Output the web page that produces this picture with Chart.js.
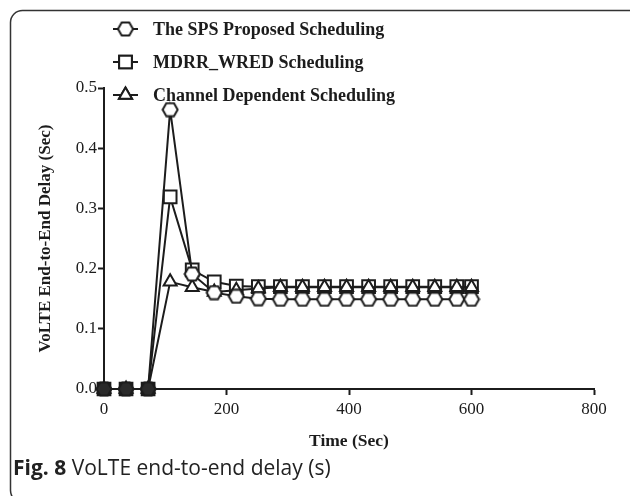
<!DOCTYPE html>
<html><head><meta charset="utf-8">
<script src="https://cdn.jsdelivr.net/npm/chart.js@4.4.1/dist/chart.umd.min.js"></script>
<style>html,body{margin:0;padding:0;background:#fff}</style>
</head><body>
<canvas id="c" width="630" height="496"></canvas>
<script>
const times = [0, 36, 72, 108, 144, 180, 216, 252, 288, 324, 360, 396, 432, 468, 504, 540, 576, 600];
const spsDelay = [0, 0, 0, 0.464, 0.191, 0.16, 0.154, 0.15, 0.149, 0.149, 0.149, 0.149, 0.149, 0.149, 0.149, 0.149, 0.149, 0.149];
const mdrrDelay = [0, 0, 0, 0.319, 0.198, 0.178, 0.171, 0.17, 0.17, 0.17, 0.17, 0.17, 0.17, 0.17, 0.17, 0.17, 0.17, 0.17];
const cdsDelay = [0, 0, 0, 0.178, 0.169, 0.161, 0.164, 0.167, 0.169, 0.169, 0.169, 0.169, 0.169, 0.169, 0.169, 0.169, 0.169, 0.169];
const seriesNames = ['The SPS Proposed Scheduling', 'MDRR_WRED Scheduling', 'Channel Dependent Scheduling'];
const xTicks = [0, 200, 400, 600, 800];
const yTicks = [0, 0.1, 0.2, 0.3, 0.4, 0.5];
const caption = ['Fig. 8', ' VoLTE end-to-end delay (s)'];

const INK = '#1c1c1c';
function hexImage(fill) {
  const c = document.createElement('canvas');
  c.width = 18; c.height = 16;
  const g = c.getContext('2d');
  g.translate(9, 8);
  g.beginPath();
  g.moveTo(-7.5, 0); g.lineTo(-3.8, -6.5); g.lineTo(3.8, -6.5);
  g.lineTo(7.5, 0); g.lineTo(3.8, 6.5); g.lineTo(-3.8, 6.5); g.closePath();
  g.fillStyle = fill; g.fill();
  g.lineWidth = 2; g.strokeStyle = INK; g.stroke();
  return c;
}
const hexWhite = hexImage('#fff');
const hexDark = hexImage('#2a2a2a');
const pts = arr => times.map((t, i) => ({x: t, y: arr[i]}));
const fillFor = ctx => (ctx.raw && ctx.raw.y === 0) ? '#2a2a2a' : '#fff';

const frame = {
  id: 'frame',
  beforeDraw(chart) {
    const g = chart.ctx;
    g.save();
    g.strokeStyle = '#333'; g.lineWidth = 1.5;
    g.beginPath();
    if (g.roundRect) g.roundRect(10.5, 10.5, 630, 492, 12); else g.rect(10.5, 10.5, 630, 492);
    g.stroke();
    g.restore();
  },
  afterDraw(chart) {
    const g = chart.ctx;
    g.save();
    const ds = chart.data.datasets;
    const ys = [29, 62, 95];
    ds.forEach((d, i) => {
      const y = ys[i];
      g.strokeStyle = INK; g.lineWidth = 2;
      g.beginPath(); g.moveTo(113, y); g.lineTo(138, y); g.stroke();
      const st = d.legendStyle;
      if (st === 'hex') {
        g.drawImage(hexWhite, 125.5 - 9, y - 8);
      } else {
        g.fillStyle = '#fff';
        Chart.helpers.drawPoint(g, {pointStyle: st, radius: d.pointRadius, borderWidth: 2, rotation: 0}, 125.5, y);
        g.fill(); g.stroke();
      }
      g.fillStyle = INK;
      g.font = 'bold 18px "Liberation Serif", "DejaVu Serif", serif';
      g.textBaseline = 'middle'; g.textAlign = 'left';
      g.fillText(d.label, 153, y + 1);
    });
    g.textBaseline = 'alphabetic';
    g.font = 'bold 21px "Open Sans", "Noto Sans", sans-serif';
    g.fillStyle = '#222';
    g.fillText(caption[0], 13, 475);
    const w = g.measureText(caption[0]).width;
    g.font = '21px "Open Sans", "Noto Sans", sans-serif';
    g.fillText(caption[1], 13 + w, 475);
    g.restore();
  }
};

const common = {
  borderColor: INK, borderWidth: 2, pointBorderColor: INK, pointBorderWidth: 2,
  pointBackgroundColor: fillFor, showLine: true, tension: 0, clip: false, fill: false
};

new Chart(document.getElementById('c'), {
  type: 'scatter',
  data: {
    datasets: [
      Object.assign({}, common, {label: seriesNames[0], data: pts(spsDelay), order: 1, legendStyle: 'hex',
        pointStyle: ctx => (ctx.raw && ctx.raw.y === 0) ? hexDark : hexWhite, pointRadius: 7}),
      Object.assign({}, common, {label: seriesNames[1], data: pts(mdrrDelay), order: 3, legendStyle: 'rect',
        pointStyle: 'rect', pointRadius: 9}),
      Object.assign({}, common, {label: seriesNames[2], data: pts(cdsDelay), order: 2, legendStyle: 'triangle',
        pointStyle: 'triangle', pointRadius: 7.5})
    ]
  },
  options: {
    responsive: false, animation: false, devicePixelRatio: 1,
    layout: {padding: {top: 88, right: 36, left: 0, bottom: 0}},
    plugins: {legend: {display: false}, tooltip: {enabled: false}},
    elements: {point: {hoverRadius: 7}},
    scales: {
      x: {
        type: 'linear', min: 0, max: 800,
        afterBuildTicks: s => { s.ticks = xTicks.map(v => ({value: v})); },
        afterFit: s => { s.height = 107; },
        border: {display: true, color: INK, width: 2},
        grid: {display: true, drawOnChartArea: false, drawTicks: true, tickLength: 6, tickWidth: 2, tickColor: INK},
        ticks: {color: INK, padding: 4, font: {family: '"Liberation Serif", serif', size: 17}},
        title: {display: true, text: 'Time (Sec)', color: INK, padding: {top: 0, bottom: 44},
          font: {family: '"Liberation Serif", serif', size: 17.5, weight: 'bold'}}
      },
      y: {
        type: 'linear', min: 0, max: 0.5,
        afterBuildTicks: s => { s.ticks = yTicks.map(v => ({value: v})); },
        afterFit: s => { s.width = 104; },
        border: {display: true, color: INK, width: 2},
        grid: {display: true, drawOnChartArea: false, drawTicks: true, tickLength: 6, tickWidth: 2, tickColor: INK},
        ticks: {color: INK, padding: 1, font: {family: '"Liberation Serif", serif', size: 17},
          callback: v => Number(v).toFixed(1)},
        title: {display: true, text: 'VoLTE End-to-End Delay (Sec)', color: INK, padding: {top: 35, bottom: 0},
          font: {family: '"Liberation Serif", serif', size: 17, weight: 'bold'}}
      }
    }
  },
  plugins: [frame]
});
</script>
</body></html>
